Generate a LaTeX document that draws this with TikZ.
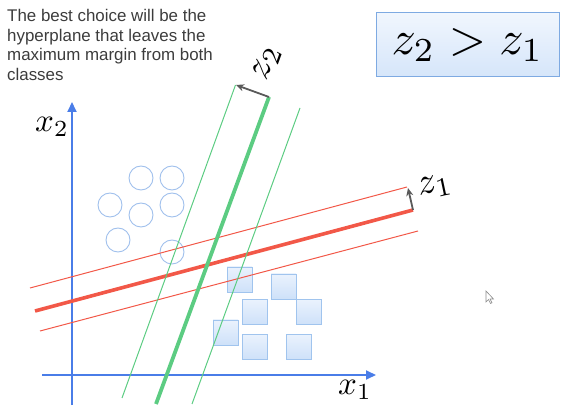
\documentclass[tikz,border=0pt]{standalone}
\usepackage{graphicx}
\usepackage{fontspec}
\newfontfamily\notefont{Liberation Sans}
\usetikzlibrary{arrows.meta}
\definecolor{axisblue}{RGB}{74,125,232}
\definecolor{redl}{RGB}{242,88,72}
\definecolor{greenl}{RGB}{92,204,130}
\definecolor{circblue}{RGB}{160,192,236}
\definecolor{sqtop}{RGB}{234,242,253}
\definecolor{sqbot}{RGB}{206,225,249}
\definecolor{sqdraw}{RGB}{160,196,238}
\definecolor{boxdraw}{RGB}{126,170,226}
\definecolor{graya}{RGB}{90,90,90}
\definecolor{textgray}{RGB}{60,60,60}
\tikzset{
  axisline/.style={draw=axisblue, line width=2pt, -{Triangle[length=10pt,width=9pt]}},
  dotc/.style={circle, draw=circblue, line width=0.9pt, minimum size=24pt, inner sep=0pt},
  sqbox/.style={rectangle, draw=sqdraw, line width=0.9pt, top color=sqtop, bottom color=sqbot, minimum size=25pt, inner sep=0pt},
  redthick/.style={draw=redl, line width=3.6pt},
  redthin/.style={draw=redl, line width=1pt},
  greenthick/.style={draw=greenl, line width=3.8pt},
  greenthin/.style={draw=greenl, line width=1pt},
  normarrow/.style={draw=graya, line width=1.8pt, -{Stealth[length=8pt,width=7pt]}},
  mathlabel/.style={inner sep=0pt},
}
\begin{document}
\begin{tikzpicture}[x=1pt,y=-1pt]
\useasboundingbox (0,0) rectangle (562,411);
% note text
\node[anchor=north west, align=left, inner sep=0pt, text=textgray,
  font=\notefont\fontsize{16.9}{19.6}\selectfont] (note) at (7,9)
  {The best choice will be the\\hyperplane that leaves the\\maximum margin from both\\classes};
% result box
\node[draw=boxdraw, line width=1pt, top color=sqtop!70!white, bottom color=sqbot!85!white,
  minimum width=183pt, minimum height=64pt, inner sep=0pt] (res) at (467.5,45) {\scalebox{4.8}{$z_2 > z_1$}};
% axes
\coordinate (xs) at (42,375);
\coordinate (xe) at (376,375);
\coordinate (ys) at (72,405);
\coordinate (ye) at (72,102);
\draw[axisline] (xs) -- (xe);
\draw[axisline] (ys) -- (ye);
\node[mathlabel] (lx1) at (355,390) {\scalebox{3.3}{$x_1$}};
\node[mathlabel] (lx2) at (52,127) {\scalebox{3.3}{$x_2$}};
% circles
\node[dotc] (c1) at (141,178) {};
\node[dotc] (c2) at (172,178) {};
\node[dotc] (c3) at (110,205) {};
\node[dotc] (c4) at (141,215) {};
\node[dotc] (c5) at (172,205) {};
\node[dotc] (c6) at (118,240) {};
\node[dotc] (c7) at (172,252) {};
% squares
\node[sqbox] (s1) at (239.5,279.5) {};
\node[sqbox] (s2) at (283.5,286.5) {};
\node[sqbox] (s3) at (254.5,312) {};
\node[sqbox] (s4) at (308.5,312) {};
\node[sqbox] (s5) at (225.5,332.5) {};
\node[sqbox] (s6) at (254.5,347) {};
\node[sqbox] (s7) at (299,347) {};
% red lines
\coordinate (ra1) at (30,288);
\coordinate (ra2) at (407,187);
\coordinate (rb1) at (35,311);
\coordinate (rb2) at (413,210);
\coordinate (rc1) at (40,331);
\coordinate (rc2) at (418,231);
\draw[redthin] (ra1) -- (ra2);
\draw[redthick] (rb1) -- (rb2);
\draw[redthin] (rc1) -- (rc2);
% green lines
\coordinate (ga1) at (122,398);
\coordinate (ga2) at (235.5,85);
\coordinate (gb1) at (156,404);
\coordinate (gb2) at (269,97);
\coordinate (gc1) at (192,404);
\coordinate (gc2) at (300,108);
\draw[greenthin] (ga1) -- (ga2);
\draw[greenthick] (gb1) -- (gb2);
\draw[greenthin] (gc1) -- (gc2);
% normal arrows
\coordinate (z2tip) at (236,85);
\coordinate (z1tip) at (408,188);
\draw[normarrow] (gb2) -- (z2tip);
\draw[normarrow] (rb2) -- (z1tip);
\node[mathlabel, rotate=70] (lz2) at (267,63) {\scalebox{3.8}{$z_2$}};
\node[mathlabel, rotate=12] (lz1) at (435,187) {\scalebox{3.8}{$z_1$}};
% mouse cursor
\draw[draw=graya!70, fill=white, line width=0.6pt]
  (486,291) -- (486,302) -- (488.5,299.5) -- (490.5,303.5) -- (492,302.8) -- (490,299) -- (493.5,299) -- cycle;
\end{tikzpicture}
\end{document}
